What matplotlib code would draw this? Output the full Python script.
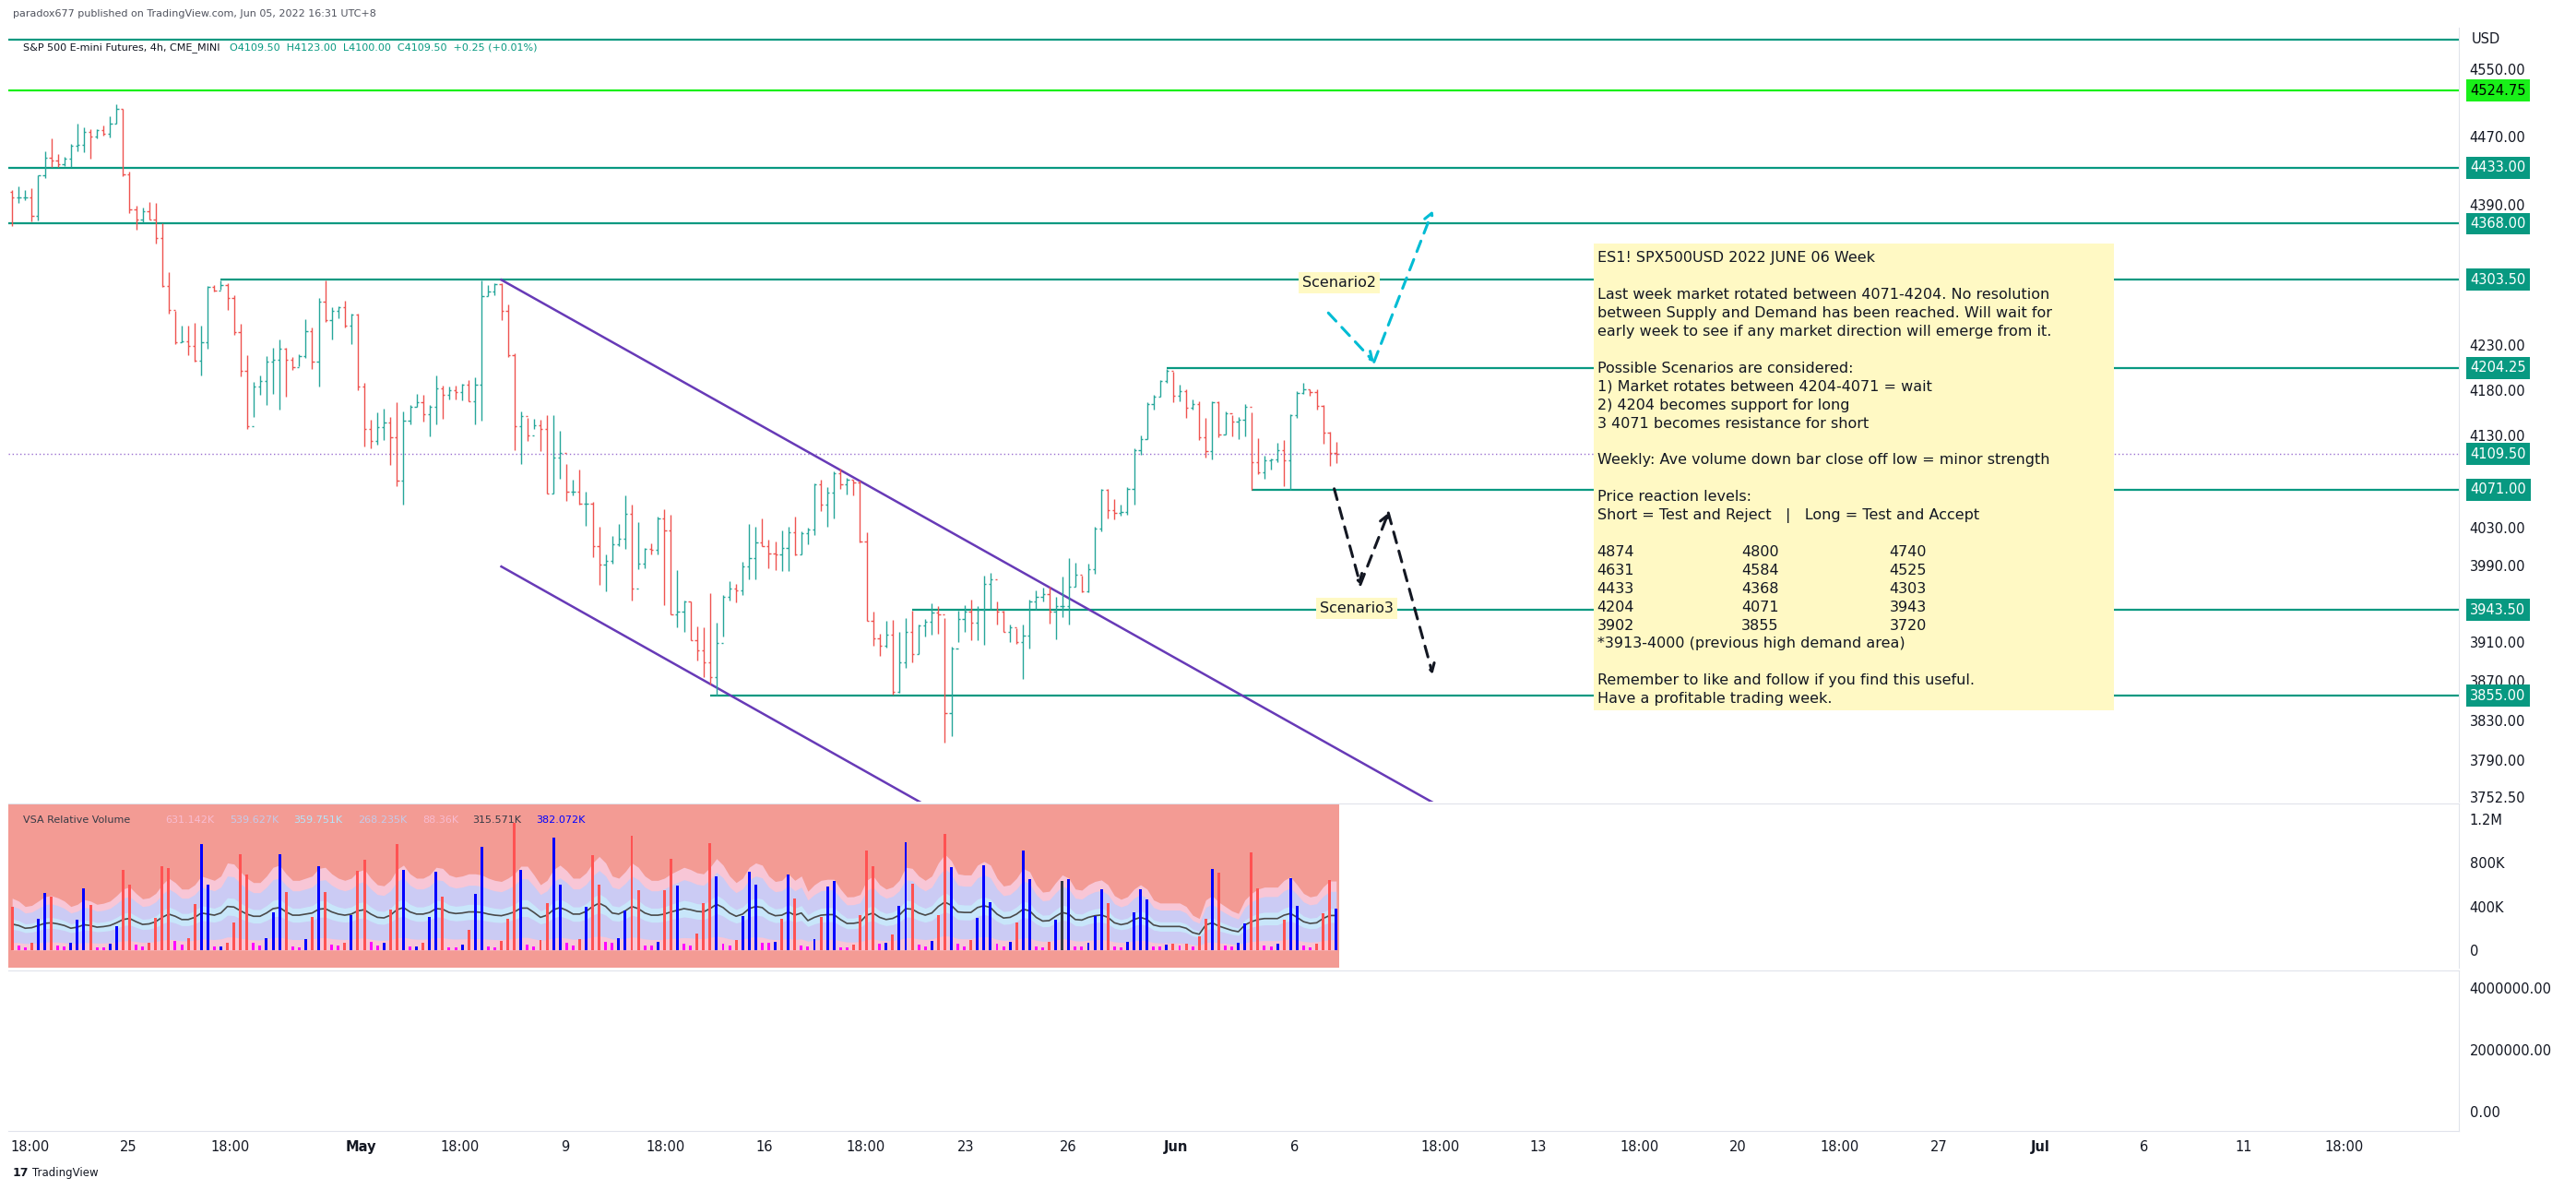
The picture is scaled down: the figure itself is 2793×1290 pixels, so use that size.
import numpy as np
import matplotlib
matplotlib.use("Agg")
import matplotlib.pyplot as plt
from matplotlib.patches import Rectangle
from matplotlib.ticker import NullLocator

# ---- data (4h bars, ES1!, ~Apr 20 - Jun 3 2022) ----
highs = [4407,4411,4407,4409,4424,4452,4468,4449,4446,4461,
         4485,4481,4479,4479,4483,4494,4508,4503,4429,4389,
         4387,4393,4392,4368,4312,4268,4252,4252,4255,4252,
         4297,4298,4303,4300,4286,4254,4219,4189,4196,4218,
         4227,4236,4227,4217,4220,4259,4250,4283,4303,4272,
         4274,4280,4265,4265,4188,4147,4155,4159,4150,4166,
         4156,4163,4176,4174,4163,4196,4185,4184,4185,4187,
         4191,4194,4303,4298,4300,4300,4276,4221,4156,4149,
         4148,4147,4152,4152,4135,4099,4082,4093,4069,4058,
         4031,4002,4021,4034,4065,4055,4036,4009,4014,4042,
         4050,4044,3985,3953,3952,3926,3925,3961,3930,3959,
         3974,3971,3994,4034,4031,4040,4017,4016,4027,4031,
         4042,4026,4030,4078,4082,4074,4091,4094,4084,4082,
         4081,4025,3942,3919,3932,3933,3921,3935,3943,3928,
         3934,3950,3947,3935,3905,3943,3948,3954,3947,3979,
         3982,3952,3943,3928,3924,3928,3954,3964,3967,3968,
         3957,3978,3998,3993,3979,3992,4031,4072,4072,4061,
         4055,4074,4116,4130,4166,4174,4191,4203,4200,4186,
         4181,4169,4167,4149,4167,4167,4156,4152,4150,4164,
         4155,4127,4108,4105,4122,4125,4153,4179,4188,4181,
         4181,4163,4134,4123]
lows = [4365,4392,4395,4371,4372,4421,4434,4434,4435,4434,
        4453,4451,4444,4468,4471,4469,4485,4423,4380,4361,
        4369,4373,4345,4295,4265,4231,4233,4219,4211,4196,
        4226,4290,4292,4269,4241,4195,4137,4150,4174,4163,
        4175,4158,4172,4202,4206,4215,4203,4184,4256,4236,
        4260,4250,4231,4180,4118,4116,4120,4125,4098,4075,
        4055,4142,4161,4145,4129,4142,4148,4169,4169,4168,
        4167,4142,4146,4285,4286,4258,4217,4114,4099,4124,
        4137,4113,4067,4067,4083,4059,4065,4055,4032,3999,
        3970,3963,3992,4011,4008,3953,3986,3987,4002,4002,
        3948,3939,3925,3921,3912,3891,3874,3866,3855,3916,
        3953,3951,3959,3976,3976,4011,3987,3985,3984,3984,
        4001,4002,4013,4022,4048,4031,4040,4072,4066,4065,
        4015,3932,3906,3896,3904,3856,3858,3883,3889,3898,
        3916,3918,3919,3807,3814,3910,3921,3912,3912,3907,
        3944,3928,3921,3910,3908,3872,3903,3944,3952,3929,
        3913,3936,3928,3968,3962,3962,3981,4026,4040,4039,
        4043,4044,4055,4109,4126,4158,4172,4188,4166,4167,
        4149,4158,4125,4106,4104,4128,4131,4129,4126,4129,
        4071,4088,4083,4093,4101,4075,4071,4149,4175,4173,
        4158,4121,4097,4100]
closes = [4398,4398,4398,4377,4424,4445,4442,4437,4444,4459,
          4460,4475,4470,4477,4473,4485,4503,4425,4385,4373,
          4382,4373,4351,4296,4269,4233,4234,4229,4212,4233,
          4295,4291,4298,4283,4244,4201,4140,4184,4190,4211,
          4213,4226,4213,4205,4218,4245,4211,4279,4258,4268,
          4272,4252,4264,4184,4137,4124,4139,4144,4128,4081,
          4146,4161,4166,4153,4161,4182,4174,4180,4178,4186,
          4167,4186,4285,4290,4299,4268,4219,4140,4151,4130,
          4141,4137,4067,4106,4111,4069,4069,4056,4056,4011,
          3991,3995,4013,4018,4045,3966,3992,4008,4007,4040,
          4027,3939,3942,3952,3912,3901,3889,3874,3909,3957,
          3966,3964,3989,3998,4015,4011,4003,4002,4009,4025,
          4002,4024,4028,4077,4055,4068,4089,4077,4082,4079,
          4016,3932,3914,3906,3918,3859,3889,3921,3898,3927,
          3931,3941,3939,3837,3903,3934,3942,3930,3944,3971,
          3976,3942,3921,3925,3910,3917,3952,3957,3960,3942,
          3947,3947,3968,3980,3963,3986,4029,4071,4049,4046,
          4047,4072,4114,4126,4164,4172,4190,4201,4173,4179,
          4160,4164,4128,4113,4166,4131,4154,4145,4147,4161,
          4101,4090,4103,4104,4114,4103,4152,4177,4181,4178,
          4162,4133,4111,4109.5]
first_open = 4405

# volume (thousands) and VSA colour class: r=down, b=up, m=low, g=neutral
volumes = [401,42,22,70,286,527,491,42,34,64,
           275,569,415,22,22,56,219,737,597,50,
           34,70,294,771,749,84,50,112,421,973,
           603,34,34,70,252,883,695,64,42,107,
           350,883,533,34,22,98,303,771,533,50,
           42,70,317,729,833,76,42,64,370,973,
           737,34,34,64,300,721,491,22,22,50,
           182,513,948,34,22,84,286,1169,737,50,
           34,90,429,1032,597,64,42,98,393,875,
           597,76,64,107,359,1052,552,42,42,78,
           547,841,589,56,42,149,429,981,673,56,
           42,90,308,721,597,64,64,76,286,695,
           477,42,34,98,300,580,
           636,28,28,48,317,917,771,56,64,140,
           409,990,611,48,36,81,317,1066,763,56,
           36,90,294,780,443,56,31,73,250,914,
           653,36,22,73,275,636,653,36,31,64,
           308,561,435,31,22,73,342,561,468,31,
           31,48,56,39,56,31,123,286,746,712,
           39,31,64,241,897,569,39,31,56,275,
           662,409,39,22,56,334,645,384]
vol_class = ("rmmrbbrmmb" "bbrmmbbrrm" "mrrrrmmrrb" "bmbrrrrmmb" "bbrmmbrbrm"
             "mrbrrmmbrr" "bmbrbbrmmb" "rbbmmrrrbm" "mrrbbmmrbr" "rmmbbrrmmb"
             "rrbmmrrrbm" "mrbbbmmbrb" "rmmbrb"
             "bmmrrrrmbr" "bbrmmbrrbm" "mrbbbmmbrb" "bmmrbgbmmb" "bbrmmbbbbm"
             "mbrmrmrrbr" "mmbbrrmmbr" "bbmmrrrb")
vol_avg = [238,225,200,205,225,245,250,240,225,200,
           210,232,225,210,215,225,250,280,290,260,
           235,240,260,300,330,310,280,280,300,340,
           330,320,340,400,395,360,330,310,310,340,
           380,390,350,320,320,330,340,375,380,350,
           330,320,330,360,370,330,300,295,320,370,
           390,350,330,330,345,380,375,345,335,340,
           350,350,345,330,320,315,330,350,385,385,
           345,300,320,370,390,365,330,330,355,400,
           430,400,340,330,360,400,380,340,320,320,
           330,350,365,380,370,355,350,380,420,390,
           340,310,330,380,400,390,340,315,320,350,
           320,340,270,300,320,325,
           325,280,244,245,255,320,340,300,280,290,
           320,380,375,340,320,340,400,440,410,350,
           345,345,390,407,390,330,294,300,330,375,
           360,300,266,270,310,345,330,280,275,300,
           315,322,300,250,233,245,280,300,280,230,
           216,216,216,216,200,160,145,230,250,220,
           200,180,168,230,260,280,289,289,289,320,
           336,300,260,244,250,290,317,317]

# drawn levels: price, first bar, colour
levels = [(4586, -0.6, "#089981"), (4524.75, -0.6, "#19f019"), (4433, -0.6, "#089981"),
          (4368, -0.6, "#089981"), (4303.5, 32, "#089981"), (4204.25, 177, "#089981"),
          (4071, 190, "#089981"), (3943.5, 138, "#089981"), (3855, 107, "#089981")]
last_price = 4109.5
channel_upper = [(75, 4303.5), (218.5, 3745)]
channel_lower = [(75, 3989), (140, 3745)]
scenario2_path = [(201.8, 4266), (208.8, 4211), (217.8, 4383)]
scenario3_path = [(202.7, 4072), (206.7, 3970), (211, 4046), (217.8, 3877)]

price_ticks = [4550, 4470, 4390, 4230, 4180, 4130, 4030, 3990, 3910, 3870, 3830, 3790, 3752.5]
time_ticks = [2.7, 17.8, 33.4, 53.5, 68.7, 84.8, 100.2, 115.3, 130.9, 146.2, 161.9, 178.5,
              196.6, 219, 233.9, 249.5, 264.6, 280.2, 295.4, 311, 326.8, 342.2, 357.5]
time_labels = ["18:00", "25", "18:00", "May", "18:00", "9", "18:00", "16", "18:00", "23", "26",
               "Jun", "6", "18:00", "13", "18:00", "20", "18:00", "27", "Jul", "6", "11", "18:00"]

note_lines = ["ES1! SPX500USD 2022 JUNE 06 Week", "",
              "Last week market rotated between 4071-4204. No resolution",
              "between Supply and Demand has been reached. Will wait for",
              "early week to see if any market direction will emerge from it.", "",
              "Possible Scenarios are considered:",
              "1) Market rotates between 4204-4071 = wait",
              "2) 4204 becomes support for long",
              "3 4071 becomes resistance for short", "",
              "Weekly: Ave volume down bar close off low = minor strength", "",
              "Price reaction levels:",
              "Short = Test and Reject   |   Long = Test and Accept", ""]
reaction_table = [("4874", "4800", "4740"), ("4631", "4584", "4525"), ("4433", "4368", "4303"),
                  ("4204", "4071", "3943"), ("3902", "3855", "3720")]
note_tail = ["*3913-4000 (previous high demand area)", "",
             "Remember to like and follow if you find this useful.",
             "Have a profitable trading week."]

UP, DOWN = "#26a69a", "#ef5350"
TEAL = "#089981"
GRID = "#e0e3eb"
TXT = "#131722"
XMIN, XMAX = -0.6, 375.2

fig = plt.figure(figsize=(27.93, 12.9), dpi=100)
ax = fig.add_axes([0.0032, 0.326, 0.9515, 0.6505])
axv = fig.add_axes([0.0032, 0.1865, 0.9515, 0.138])
ax3 = fig.add_axes([0.0032, 0.0497, 0.9515, 0.135])

for a in (ax, axv, ax3):
    a.set_xlim(XMIN, XMAX)
    for s in ("left", "top", "bottom"):
        a.spines[s].set_visible(False)
    a.spines["right"].set_color(GRID)
    a.yaxis.tick_right()
    a.tick_params(axis="y", length=0, labelsize=10.5, labelcolor=TXT, pad=8)
    a.set_xticks([])
axv.spines["top"].set_visible(True)
axv.spines["top"].set_color(GRID)
ax3.spines["top"].set_visible(True)
ax3.spines["top"].set_color(GRID)
ax3.spines["bottom"].set_visible(True)
ax3.spines["bottom"].set_color(GRID)

# ---- price pane ----
ax.set_yscale("log")
ax.set_ylim(3747.9, 4600.2)
ax.yaxis.set_minor_locator(NullLocator())
ax.set_yticks(price_ticks)
ax.set_yticklabels([f"{p:.2f}" for p in price_ticks])

x = np.arange(len(closes))
opens = [first_open] + closes[:-1]
for i in x:
    col = UP if closes[i] >= opens[i] else DOWN
    ax.vlines(i, lows[i], highs[i], color=col, lw=1.0, zorder=3)
    ax.hlines(opens[i], i - 0.32, i, color=col, lw=1.0, zorder=3)
    ax.hlines(closes[i], i, i + 0.32, color=col, lw=1.0, zorder=3)

for price, start, col in levels:
    ax.hlines(price, start, XMAX, color=col, lw=1.6, zorder=2)
ax.axhline(last_price, color="#9a6fd0", lw=1.0, ls=(0, (1, 2)), zorder=2)

for seg in (channel_upper, channel_lower):
    ax.plot([p[0] for p in seg], [p[1] for p in seg], color="#673ab7", lw=1.8, zorder=2)

for path, col in ((scenario2_path, "#00bcd4"), (scenario3_path, "#131722")):
    for (x0, y0), (x1, y1) in zip(path[:-1], path[1:]):
        ax.annotate("", xy=(x1, y1), xytext=(x0, y0), zorder=5,
                    arrowprops=dict(arrowstyle="->,head_length=0.6,head_width=0.35",
                                    color=col, lw=2.2, ls=(0, (4, 3)),
                                    shrinkA=0, shrinkB=0))

for label, bx, by in (("Scenario2", 203.4, 4300), ("Scenario3", 206.2, 3945)):
    ax.text(bx, by, label, ha="center", va="center", fontsize=11.5, color=TXT, zorder=6,
            bbox=dict(boxstyle="square,pad=0.25", fc="#fff9c4", ec="none"))

ytrans = ax.get_yaxis_transform()
for price, bg, fg in ((4524.75, "#19f019", "#000000"), (4433, TEAL, "white"), (4368, TEAL, "white"),
                      (4303.5, TEAL, "white"), (4204.25, TEAL, "white"), (4109.5, TEAL, "white"),
                      (4071, TEAL, "white"), (3943.5, TEAL, "white"), (3855, TEAL, "white")):
    ax.text(1.0045, price, f"{price:.2f}", transform=ytrans, ha="left", va="center",
            fontsize=10.5, color=fg, zorder=7, clip_on=False,
            bbox=dict(boxstyle="square,pad=0.3", fc=bg, ec="none"))
ax.text(1.005, 4586, "USD", transform=ytrans, ha="left", va="center", fontsize=10.5, color=TXT)

ax.text(0.006, 0.975, "S&P 500 E-mini Futures, 4h, CME_MINI", transform=ax.transAxes,
        fontsize=8, color=TXT, va="center")
ax.text(0.0905, 0.975, "O4109.50  H4123.00  L4100.00  C4109.50  +0.25 (+0.01%)",
        transform=ax.transAxes, fontsize=8, color=TEAL, va="center")

# ---- note box ----
fig.add_artist(Rectangle((0.6186, 0.4033), 0.2022, 0.3923, transform=fig.transFigure,
                         fc="#fff9c4", ec="none", zorder=10))
step = 0.01543
ty = 0.783
for line in note_lines:
    fig.text(0.6200, ty, line, fontsize=11.5, color=TXT, va="center", zorder=11)
    ty -= step
for row in reaction_table:
    for cx, val in zip((0.6200, 0.6760, 0.7334), row):
        fig.text(cx, ty, val, fontsize=11.5, color=TXT, va="center", zorder=11)
    ty -= step
for line in note_tail:
    fig.text(0.6200, ty, line, fontsize=11.5, color=TXT, va="center", zorder=11)
    ty -= step

# ---- VSA volume pane ----
vk = np.array(volumes) * 1000.0
avg = np.array(vol_avg) * 1000.0
axv.set_ylim(-166e3, 1343e3)
axv.axvspan(XMIN, len(vk) - 0.5, color="#f39b94", lw=0, zorder=0)
axv.fill_between(x, 0, avg * 2.0, color="#f8c6d6", lw=0, zorder=1)
axv.fill_between(x, avg * 0.3, avg * 1.7, color="#cbcbf4", lw=0, zorder=1)
axv.fill_between(x, avg * 0.8, avg * 1.2, color="#c8e6fa", lw=0, zorder=1)
axv.plot(x, avg, color="#4a4a4a", lw=1.2, zorder=2)
cmap = {"r": "#ff5252", "b": "#0000ff", "m": "#ff00ff", "g": "#363a45"}
axv.bar(x, vk, width=0.42, color=[cmap[c] for c in vol_class], zorder=3)
axv.set_yticks([0, 400e3, 800e3, 1200e3])
axv.set_yticklabels(["0", "400K", "800K", "1.2M"])
vx = 0.006
for txt, col in (("VSA Relative Volume", "#363a45"), ("631.142K", "#f8bbd0"), ("539.627K", "#c5cae9"),
                 ("359.751K", "#b3e5fc"), ("268.235K", "#c5cae9"), ("88.36K", "#f8bbd0"),
                 ("315.571K", "#363a45"), ("382.072K", "#0000ff")):
    axv.text(vx, 0.9, txt, transform=axv.transAxes, fontsize=8, color=col, va="center", zorder=5)
    vx += len(txt) * 0.0029 + 0.003

# ---- empty lower pane with time axis ----
ax3.set_ylim(-0.64e6, 4.587e6)
ax3.set_yticks([0, 2e6, 4e6])
ax3.set_yticklabels(["0.00", "2000000.00", "4000000.00"])
ax3.set_xticks(time_ticks)
ax3.set_xticklabels(time_labels)
ax3.tick_params(axis="x", length=0, labelsize=10.5, labelcolor=TXT, pad=7)
for lab in ax3.get_xticklabels():
    if lab.get_text() in ("May", "Jun", "Jul"):
        lab.set_fontweight("bold")

fig.text(0.005, 0.992, "paradox677 published on TradingView.com, Jun 05, 2022 16:31 UTC+8",
         fontsize=8, color="#50535e", va="top")
fig.text(0.005, 0.014, "17", fontsize=9, fontweight="bold", color=TXT, va="center")
fig.text(0.0125, 0.014, "TradingView", fontsize=8.5, color=TXT, va="center")

fig.savefig("out.png", dpi=100)
